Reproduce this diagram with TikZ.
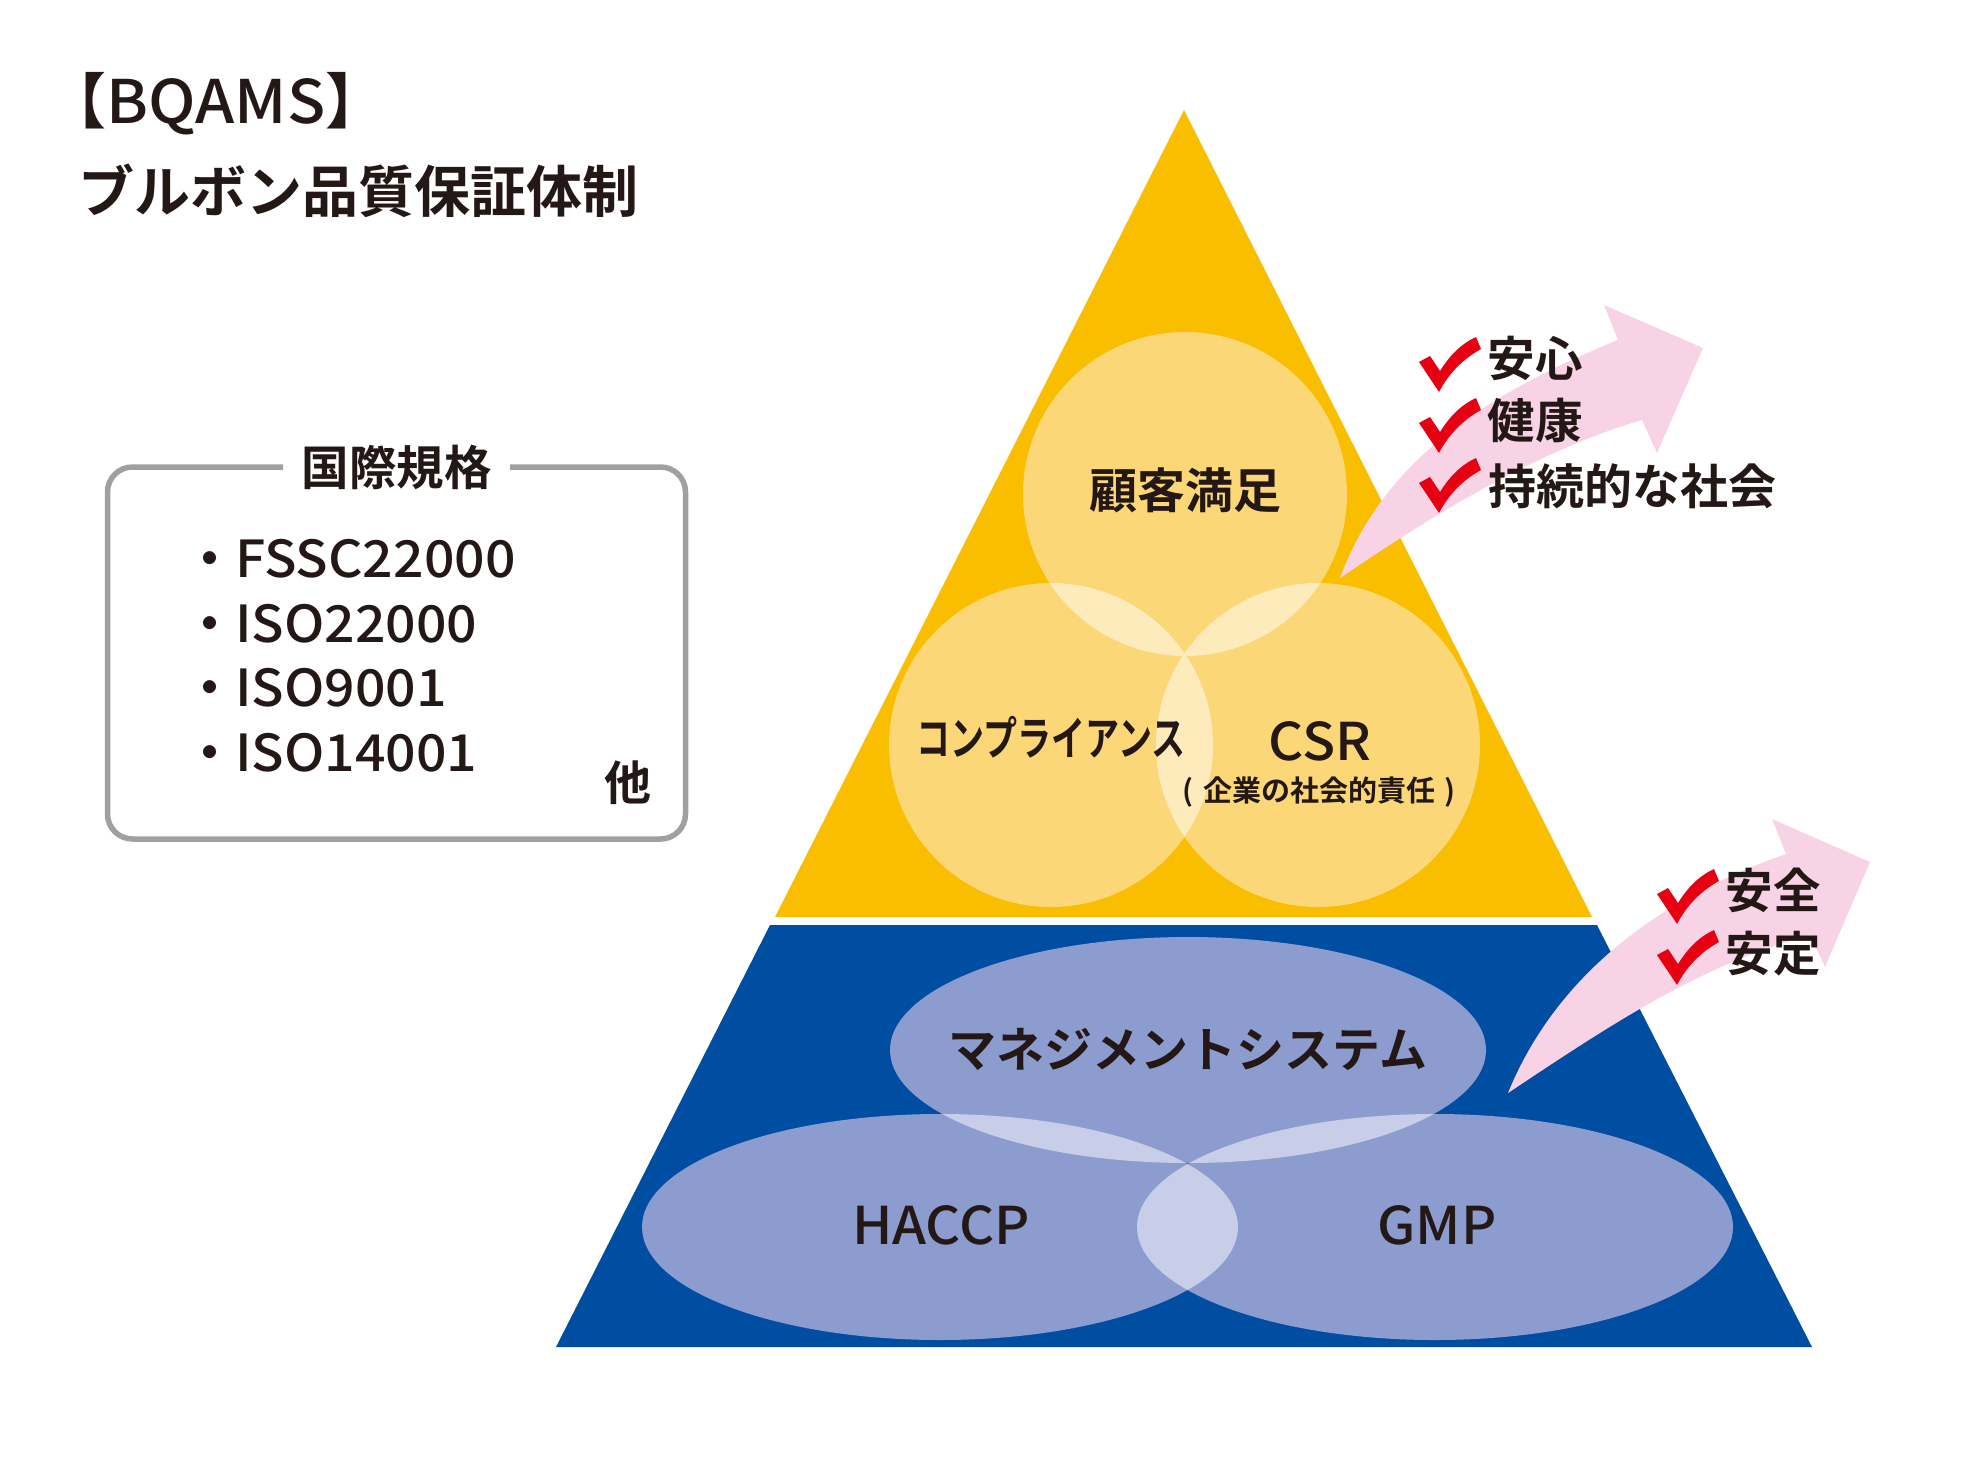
\documentclass[tikz,border=0pt]{standalone}
\usepackage{fontspec}
\usepackage{graphicx}
\setmainfont{Noto Sans CJK JP}[UprightFont=* Bold,BoldFont=* Bold]
\newfontfamily\latn{Noto Sans CJK JP}[UprightFont=* Medium,BoldFont=* Bold,FakeStretch=1.05]
\definecolor{ink}{HTML}{231815}
\definecolor{goldtri}{HTML}{F9BE00}
\definecolor{bluetrap}{HTML}{004EA2}
\definecolor{pinkarrow}{HTML}{F8D3E6}
\definecolor{redcheck}{HTML}{E60012}
\definecolor{greyline}{HTML}{9FA0A0}
\definecolor{circlebase}{HTML}{FCD777}
\definecolor{circleover}{HTML}{FEEBBB}
\definecolor{ellipsebase}{HTML}{8D9CCF}
\definecolor{ellipseover}{HTML}{C8CEE8}
\newcommand{\fsz}[1]{\fontsize{#1}{#1}\selectfont}
\tikzset{
  lbl/.style={inner sep=0pt,text=ink,align=center},
  flow/.style={fill=pinkarrow},
  tick/.pic={\fill[redcheck] (0,0) -- (-20,-30) -- (-9,-36) -- (1,-21) .. controls (11,-37) and (22,-48) .. (37,-55) -- (42,-43) .. controls (24,-33) and (10,-19) .. cycle;},
}
\begin{document}
\begin{tikzpicture}[x=1pt,y=-1pt]
\useasboundingbox (0,0) rectangle (1980,1459);
% pyramid
\fill[goldtri] (1184,110) -- (1592,917) -- (775,917) -- cycle;
\fill[bluetrap] (770,925) -- (1597,925) -- (1812,1347) -- (556,1347) -- cycle;
\fill[circlebase] (1185,494) circle (162);
\fill[circlebase] (1051,745) circle (162);
\fill[circlebase] (1318,745) circle (162);
\begin{scope}
\clip (1185,494) circle (162);
\fill[circleover] (1051,745) circle (162);
\fill[circleover] (1318,745) circle (162);
\end{scope}
\begin{scope}
\clip (1051,745) circle (162);
\fill[circleover] (1318,745) circle (162);
\end{scope}
\fill[ellipsebase] (1188,1050) ellipse (298 and 113);
\fill[ellipsebase] (940,1227) ellipse (298 and 113);
\fill[ellipsebase] (1435,1227) ellipse (298 and 113);
\begin{scope}
\clip (1188,1050) ellipse (298 and 113);
\fill[ellipseover] (940,1227) ellipse (298 and 113);
\fill[ellipseover] (1435,1227) ellipse (298 and 113);
\end{scope}
\begin{scope}
\clip (940,1227) ellipse (298 and 113);
\fill[ellipseover] (1435,1227) ellipse (298 and 113);
\end{scope}
% arrows
\fill[flow] (1340,578) .. controls (1380,470) and (1470,400) .. (1618,340) -- (1604,305) -- (1703,348) -- (1657,453) -- (1642,420) .. controls (1540,450) and (1440,510) .. cycle;
\fill[flow] (1508,1093) .. controls (1550,990) and (1640,905) .. (1786,854) -- (1772,819) -- (1870,862) -- (1825,967) -- (1810,935) .. controls (1700,965) and (1610,1025) .. cycle;
% ticks
\pic at (1439,392) {tick};
\pic at (1439,453) {tick};
\pic at (1439,513) {tick};
\pic at (1677,924) {tick};
\pic at (1677,985) {tick};
% header
\node[lbl,font=\fsz{60}] (head) at (216,104) {【{\latn BQAMS}】};
\node[lbl,font=\fsz{56}] (sub) at (358.5,191) {ブルボン品質保証体制};
% standards box
\draw[greyline,line width=5.5pt,rounded corners=25pt] (283,467) -- (107.5,467) -- (107.5,839) -- (685.5,839) -- (685.5,467) -- (510,467);
\node[lbl,font=\fsz{47.5}] (boxtitle) at (396.5,467) {国際規格};
\node[lbl,anchor=base west,font=\fsz{51}] (s1) at (184,577) {・{\latn FSSC22000}};
\node[lbl,anchor=base west,font=\fsz{51}] (s2) at (184,642) {・{\latn ISO22000}};
\node[lbl,anchor=base west,font=\fsz{51}] (s3) at (184,706) {・{\latn ISO9001}};
\node[lbl,anchor=base west,font=\fsz{51}] (s4) at (184,771) {・{\latn ISO14001}};
\node[lbl,font=\fsz{47}] (other) at (628,783) {他};
% circle labels
\node[lbl,font=\fsz{48}] (cs) at (1185,490) {顧客満足};
\node[lbl,font=\fsz{46}] (comp) at (1051,737) {\scalebox{.74}[1]{コンプライアンス}};
\node[lbl,font=\fsz{52}] (csr) at (1320,741) {\latn CSR};
\node[lbl,font=\fsz{29}] (csrsub) at (1319,792) {(\,\,企業の社会的責任\,\,)};
% ellipse labels
\node[lbl,font=\fsz{48}] (ms) at (1188,1049) {マネジメントシステム};
\node[lbl,font=\fsz{52}] (haccp) at (941,1225) {\latn HACCP};
\node[lbl,font=\fsz{52}] (gmp) at (1437,1225) {\latn GMP};
% benefits
\node[lbl,font=\fsz{47.5}] (b1) at (1535,358) {安心};
\node[lbl,font=\fsz{47.5}] (b2) at (1535,421) {健康};
\node[lbl,font=\fsz{48}] (b3) at (1632,486) {持続的な社会};
\node[lbl,font=\fsz{47.5}] (b4) at (1773,890) {安全};
\node[lbl,font=\fsz{47.5}] (b5) at (1773,954) {安定};
\end{tikzpicture}
\end{document}
